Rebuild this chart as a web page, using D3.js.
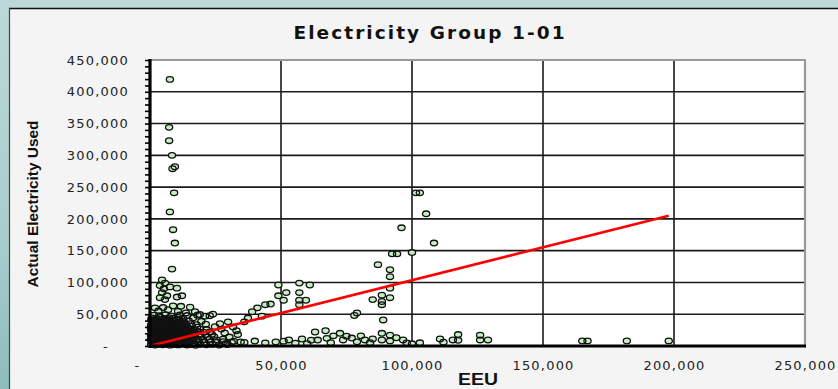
<!DOCTYPE html>
<html>
<head>
<meta charset="utf-8">
<script src="https://cdn.jsdelivr.net/npm/d3@7"></script>
<style>
  html, body { margin: 0; padding: 0; overflow: hidden; background: #b6d4d4; }
  svg { display: block; }
</style>
</head>
<body>
<svg id="chart" width="838" height="389"></svg>
<script>
// ---- Data -------------------------------------------------------------
const chartTitle = "Electricity Group 1-01";
const xTitle = "EEU";
const yTitle = "Actual Electricity Used";

const xTicks = [0, 50000, 100000, 150000, 200000, 250000];
const yTicks = [0, 50000, 100000, 150000, 200000, 250000, 300000, 350000, 400000, 450000];

// Dense group of small sites [EEU, actual]
const smallSites = [
  [400,2100],[1900,1500],[3200,2800],[4800,1900],[6100,2600],[7700,1300],[9300,2400],[10800,1700],[12600,2900],[14100,1600],[15900,2200],[17400,1200],[19200,2700],[21500,1800],[23800,2500],[26400,1400],[29500,2300],
  [900,6200],[2400,5600],[4000,6800],[5500,5300],[7000,6500],[8600,5900],[10200,7100],[11700,5400],[13400,6600],[15000,6000],[16800,5200],[18600,6900],[20700,5700],[22900,6400],[25300,5500],[28100,6700],[31200,5800],[34600,6300],
  [300,10400],[1600,9600],[3100,10900],[4600,9300],[6300,10600],[7800,9800],[9500,11200],[11100,9500],[12800,10300],[14400,11000],[16200,9400],[18100,10700],[20200,9900],[22600,10500],[25400,9700],[27900,10800],
  [800,14300],[2300,13600],[3900,14900],[5400,13400],[7100,14600],[8700,13900],[10300,15100],[12000,13500],[13600,14400],[15400,15000],[17300,13700],[19500,14800],[21800,13800],[24500,14500],[30300,14100],
  [500,18500],[2000,17600],[3600,18900],[5100,17300],[6700,18200],[8300,19100],[9900,17500],[11600,18700],[13300,17900],[15100,18600],[17000,17400],[19000,18800],[21200,17800],[23600,18400],[33500,18000],
  [1100,22400],[2700,21500],[4200,22900],[5800,21300],[7400,22600],[9100,21800],[10700,23100],[12400,21600],[14200,22500],[16100,21900],[18200,23000],[20400,21700],[22900,22300],
  [400,26300],[1900,25600],[3400,26900],[5000,25400],[6600,26700],[8200,25800],[9800,27000],[11500,25500],[13200,26400],[15000,27100],[16900,25700],[19100,26500],[21600,25900],[27200,26600],
  [1000,30500],[2600,29600],[4100,31000],[5700,29400],[7300,30700],[8900,29800],[10600,31200],[12300,29500],[14100,30400],[16000,31100],[18000,29700],[24800,30300],
  [600,34400],[2200,33600],[3700,35000],[5300,33300],[6900,34700],[8500,33800],[10200,35200],[11900,33500],[13700,34600],[15600,35100],[17700,33700],[21300,34200],
  [1300,39200],[2900,38400],[4500,39800],[6100,38200],[7700,39500],[9400,38700],[11100,40100],[12900,38500],[14800,39600],[19600,38900],
  [700,44300],[2400,43500],[4000,44900],[5600,43200],[7300,44600],[9000,43700],[10800,45000],[12600,43600],[16400,44200],
  [1500,48400],[3500,47600],[5800,49100],[8100,47300],[11400,48700],[14200,47900],[18100,48500],[22800,47700],
  [1900,60000],[5000,60500],[8800,63000],[11800,62500],[15300,61000],[17200,54000],[10700,54500],[6900,57000],[13700,52000],[19000,49500],[3200,55000],[21000,47000],[24000,50000]
];

// Smallest sites, packed closest to the origin
const tinySites = [
  [1200,4000],[2800,3500],[4400,4300],[6000,3800],[7600,4500],[9200,3600],[10800,4200],[12400,3900],[14000,4400],[16000,3700],
  [500,8200],[2100,7900],[3700,8600],[5300,8000],[6900,8400],[8500,7700],[10100,8800],[11700,8100],[13300,8500],[15000,7800],[17500,8300],
  [1300,12200],[2900,11800],[4500,12500],[6100,12000],[7700,12600],[9300,11900],[10900,12400],[12500,12100],[14100,12700],[16000,12000],
  [400,16300],[2000,15800],[3600,16600],[5200,16000],[6800,16500],[8400,15700],[10000,16800],[11600,16100],[13200,16400],[14900,15900],
  [1200,20200],[2800,19800],[4400,20600],[6000,20000],[7600,20400],[9200,19700],[10800,20800],[12400,20100],[14000,20500],[16200,19900],
  [500,24300],[2100,23800],[3700,24600],[5300,24000],[6900,24500],[8500,23700],[10100,24800],[11700,24100],[13300,24400],[15200,23900],
  [1300,28200],[2900,27800],[4500,28600],[6100,28000],[7700,28400],[9300,27700],[10900,28800],[12500,28100],[14300,28500],
  [400,32300],[2000,31800],[3600,32600],[5200,32000],[6800,32500],[8400,31700],[10000,32800],[11600,32100],[13300,32400],
  [1200,36800],[2800,36200],[4400,37000],[6000,36400],[7600,36900],[9200,36100],[10900,37200],[12600,36500],
  [500,41500],[2100,41000],[3700,41800],[5300,41200],[6900,41700],[8600,40900],[10300,42000]
];

// Low-EEU sites with high usage
const highUsageSites = [
  [7600,419500],[7300,344000],[7300,323000],[8400,300000],[9500,282000],[8600,279000],[9200,241000],[7600,211000],[8800,183000],[9500,162000],
  [8400,121000],[4600,104000],[5700,99000],[3800,95000],[5300,90000],[4600,84000],[6500,79000],[3800,76000],[5700,73000],[10300,91000],[10300,77000],[12200,79000],[7600,93000]
];

// Mid-range sites
const midSites = [
  [26700,35000],[29800,38000],[31700,30000],[37400,44000],[39000,54000],[41000,60000],[44000,65000],[46000,66000],[42700,47000],[36000,38000],[33000,24000],[28500,20500],
  [52000,84000],[57000,99000],[61000,96000],[57000,84000],[57000,72000],[57000,65000],[59500,72000],[49000,96000],[49000,79000],[51000,72000],
  [92400,145000],[94300,145000],[100000,147000],[103000,241000],[101500,241000],[105400,208000],[96000,186000],[108400,162000],[87000,128000],
  [91600,120000],[91600,109000],[91600,91000],[85000,73000],[88500,80000],[88500,65000],[88500,70000],[91600,76000],[79000,52000],[78000,48000],[89000,41000]
];

// Sites with usage well below EEU
const lowUsageSites = [
  [25000,6500],[29000,4200],[32000,7500],[36000,5500],[40000,7800],[44000,4800],[48000,6300],[51000,7600],[53000,9500],[58000,11000],
  [61500,9200],[63000,22000],[64000,9400],[67500,12000],[72500,20000],[73700,9500],[77000,12500],[79000,6500],[82000,9500],[85000,11000],
  [88500,20000],[88500,9500],[91600,17000],[91600,8000],[96600,9500],[98000,4800],[100000,3500],[103000,5000],[110700,11000],[112000,6000],
  [115600,9500],[117600,18000],[117600,9000],[126000,17000],[126000,9500],[129000,9500],[165000,8000],[167000,8000],[182000,8000],[198000,8000],
  [67000,24000],[70000,16000],[75000,15500],[80500,16000],[84000,5200],[94000,13000],[55500,4500],[60000,3800],[69000,5200]
];

// Fitted trend line end points [EEU, actual]
const fitLine = [[1000, 1000], [198000, 205000]];

// ---- Layout -----------------------------------------------------------
const W = 838, H = 389;
const plot = { left: 150, right: 805, top: 60, bottom: 346 };

const svg = d3.select("#chart");

const x = d3.scaleLinear().domain([0, 250000]).range([plot.left, plot.right]);
const y = d3.scaleLinear().domain([0, 450000]).range([plot.bottom, plot.top]);
const fmt = d3.format(",");
const tickLabel = v => v === 0 ? "-" : fmt(v);

// backdrop
const defs = svg.append("defs");
const bg = defs.append("linearGradient").attr("id", "bg").attr("x1", 0).attr("y1", 0).attr("x2", 0).attr("y2", 1);
bg.append("stop").attr("offset", "0%").attr("stop-color", "#bdd8d8");
bg.append("stop").attr("offset", "60%").attr("stop-color", "#a9cdcd");
bg.append("stop").attr("offset", "100%").attr("stop-color", "#8dbdbc");
svg.append("rect").attr("width", W).attr("height", H).attr("fill", "url(#bg)");

// chart panel
svg.append("rect").attr("x", 10).attr("y", 8).attr("width", W).attr("height", H)
  .attr("fill", "#f4f4f4");
svg.append("line").attr("x1", 9).attr("x2", W).attr("y1", 8.5).attr("y2", 8.5)
  .attr("stroke", "#111").attr("stroke-width", 1.5);
svg.append("line").attr("x1", 9.5).attr("x2", 9.5).attr("y1", 8).attr("y2", H)
  .attr("stroke", "#444").attr("stroke-width", 1.2);

// plot area
svg.append("rect").attr("x", plot.left).attr("y", plot.top)
  .attr("width", plot.right - plot.left).attr("height", plot.bottom - plot.top)
  .attr("fill", "#ffffff");

// gridlines
const grid = svg.append("g");
grid.selectAll("line.h").data(yTicks.filter(v => v > 0 && v < 450000)).join("line")
  .attr("x1", plot.left).attr("x2", plot.right)
  .attr("y1", d => y(d)).attr("y2", d => y(d))
  .attr("stroke", "#1a1a1a").attr("stroke-width", 1.6);
grid.selectAll("line.v").data(xTicks.filter(v => v > 0 && v < 250000)).join("line")
  .attr("x1", d => x(d)).attr("x2", d => x(d))
  .attr("y1", plot.top).attr("y2", plot.bottom)
  .attr("stroke", "#1a1a1a").attr("stroke-width", 1.6);

// frame top / right
svg.append("path")
  .attr("d", `M${plot.left},${y(450000)}H${x(250000)}V${plot.bottom}`)
  .attr("fill", "none").attr("stroke", "#9a9a9a").attr("stroke-width", 2.2);

// points: fills first, outlines on top so crowded areas read dark
const allSites = [...smallSites, ...tinySites, ...highUsageSites, ...midSites, ...lowUsageSites];
const pts = svg.append("g");
pts.selectAll("ellipse.fill").data(allSites).join("ellipse")
  .attr("class", "fill")
  .attr("cx", d => x(d[0])).attr("cy", d => y(d[1]))
  .attr("rx", 3.6).attr("ry", 2.8)
  .attr("fill", "#c6efc4");
pts.selectAll("ellipse.edge").data(allSites).join("ellipse")
  .attr("class", "edge")
  .attr("cx", d => x(d[0])).attr("cy", d => y(d[1]))
  .attr("rx", 3.6).attr("ry", 2.8)
  .attr("fill", "none").attr("stroke", "#111").attr("stroke-width", 1.3);

// trend line
svg.append("path").datum(fitLine)
  .attr("d", d3.line().x(d => x(d[0])).y(d => y(d[1])))
  .attr("fill", "none").attr("stroke", "#ff0000").attr("stroke-width", 2.6);

// y axis: minor ticks, spine and labels
const yMinor = svg.append("g").attr("transform", `translate(${plot.left},0)`)
  .call(d3.axisLeft(y).tickValues(d3.range(0, 450001, 10000)).tickSize(5).tickFormat(""));
yMinor.select(".domain").remove();
yMinor.selectAll("line").attr("stroke", "#000").attr("stroke-width", 1.6);
svg.append("line").attr("x1", plot.left).attr("x2", plot.left)
  .attr("y1", plot.top - 1).attr("y2", plot.bottom + 1)
  .attr("stroke", "#000").attr("stroke-width", 3.2);

const yAxis = svg.append("g").attr("transform", `translate(${plot.left},0)`)
  .call(d3.axisLeft(y).tickValues(yTicks).tickSize(0).tickPadding(21).tickFormat(tickLabel));
yAxis.select(".domain").remove();
yAxis.selectAll("text")
  .attr("font-family", "'DejaVu Sans', Verdana, sans-serif").attr("font-size", 13)
  .attr("letter-spacing", "1.2px").attr("fill", "#222");
yAxis.selectAll(".tick").filter(d => d === 0).select("text").attr("dx", -20);

// x axis: spine and labels
svg.append("line").attr("x1", plot.left - 1).attr("x2", x(250000) + 1)
  .attr("y1", plot.bottom).attr("y2", plot.bottom)
  .attr("stroke", "#000").attr("stroke-width", 3);

const xAxis = svg.append("g").attr("transform", `translate(0,${plot.bottom})`)
  .call(d3.axisBottom(x).tickValues(xTicks).tickSize(0).tickPadding(15).tickFormat(tickLabel));
xAxis.select(".domain").remove();
xAxis.selectAll("text")
  .attr("font-family", "'DejaVu Sans', Verdana, sans-serif").attr("font-size", 13)
  .attr("letter-spacing", "1.2px").attr("fill", "#222");
xAxis.selectAll(".tick").filter(d => d === 0).select("text").attr("dx", -13);

// titles
svg.append("text").attr("x", 429).attr("y", 39).attr("text-anchor", "middle")
  .attr("font-family", "'DejaVu Sans', Arial, sans-serif").attr("font-weight", "bold")
  .attr("font-size", 18.5).attr("fill", "#111")
  .attr("textLength", 271).attr("lengthAdjust", "spacing")
  .text(chartTitle);

svg.append("text").attr("x", 478).attr("y", 385).attr("text-anchor", "middle")
  .attr("font-family", "'Liberation Sans', Arial, sans-serif").attr("font-weight", "bold")
  .attr("font-size", 16).attr("fill", "#111")
  .attr("textLength", 40).attr("lengthAdjust", "spacingAndGlyphs")
  .text(xTitle);

svg.append("text").attr("transform", "translate(38,204) rotate(-90)")
  .attr("text-anchor", "middle")
  .attr("font-family", "'Liberation Sans', Arial, sans-serif").attr("font-weight", "bold")
  .attr("font-size", 15).attr("fill", "#111")
  .attr("textLength", 167).attr("lengthAdjust", "spacingAndGlyphs")
  .text(yTitle);
</script>
</body>
</html>
